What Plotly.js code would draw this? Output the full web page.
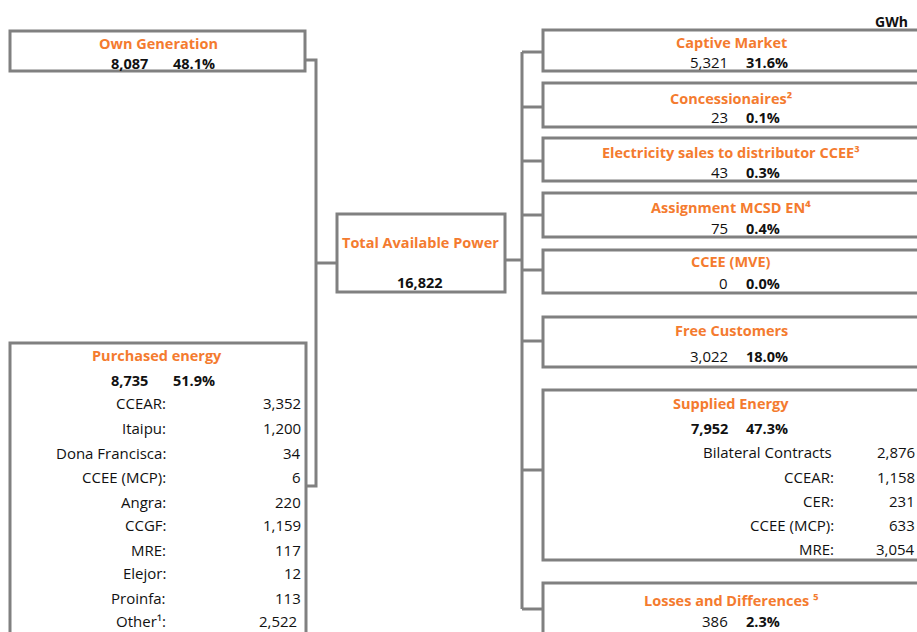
<!DOCTYPE html>
<html>
<head>
<meta charset="utf-8">
<script src="https://cdn.plot.ly/plotly-3.0.1.min.js"></script>
<style>html,body{margin:0;padding:0;background:#fff;}#chart{width:917px;height:632px;}</style>
</head>
<body>
<div id="chart"></div>
<script>
// ---------- DATA ----------
const unitLabel = 'GWh';
const sourceLabels = ['Own Generation', 'Purchased energy'];
const sourceValues = [8087, 8735];
const sourceShares = [48.1, 51.9];
const totalLabel = 'Total Available Power';
const totalValue = 16822;
const purchasedItems = ['CCEAR:', 'Itaipu:', 'Dona Francisca:', 'CCEE (MCP):', 'Angra:', 'CCGF:', 'MRE:', 'Elejor:', 'Proinfa:', 'Other¹:'];
const purchasedValues = [3352, 1200, 34, 6, 220, 1159, 117, 12, 113, 2522];
const useLabels = ['Captive Market', 'Concessionaires²', 'Electricity sales to distributor CCEE³', 'Assignment MCSD EN⁴', 'CCEE (MVE)', 'Free Customers', 'Supplied Energy', 'Losses and Differences ⁵'];
const useValues = [5321, 23, 43, 75, 0, 3022, 7952, 386];
const useShares = [31.6, 0.1, 0.3, 0.4, 0.0, 18.0, 47.3, 2.3];
const suppliedItems = ['Bilateral Contracts', 'CCEAR:', 'CER:', 'CCEE (MCP):', 'MRE:'];
const suppliedValues = [2876, 1158, 231, 633, 3054];

// ---------- LAYOUT (positions, styles) ----------
const ORANGE = '#F47B2F';
const GRAY = '#808080';
const FONT = 'Open Sans, DejaVu Sans, sans-serif';
const LW = 3;
const BOLD_SIZE = 14.5;
const REG_SIZE = 15;
const fmt = v => v.toLocaleString('en-US');
const pct = v => v.toFixed(1) + '%';

const shapes = [];
const ann = [];
function rect(x0, y0, x1, y1) {
  shapes.push({type: 'rect', xref: 'x', yref: 'y', x0, y0, x1, y1, line: {color: GRAY, width: LW}, layer: 'above'});
}
function path(d) {
  shapes.push({type: 'path', xref: 'x', yref: 'y', path: d, line: {color: GRAY, width: LW}, layer: 'above'});
}
function text(t, x, y, opts) {
  opts = opts || {};
  ann.push({text: t, x, y, xref: 'x', yref: 'y', showarrow: false,
    xanchor: opts.xa || 'center', yanchor: 'middle', borderpad: 0,
    font: {family: FONT, size: opts.size || (opts.bold ? BOLD_SIZE : REG_SIZE), color: opts.color || '#111', weight: opts.bold ? 'bold' : 'normal'}});
}

// Own generation box
rect(10, 31, 305, 71);
text(sourceLabels[0], 158, 43, {bold: true, color: ORANGE});
text(fmt(sourceValues[0]), 149, 63, {bold: true, xa: 'right'});
text(pct(sourceShares[0]), 172, 63, {bold: true, xa: 'left'});

// Purchased energy box
rect(10, 343, 306, 660);
text(sourceLabels[1], 157, 355, {bold: true, color: ORANGE});
text(fmt(sourceValues[1]), 149, 380, {bold: true, xa: 'right'});
text(pct(sourceShares[1]), 172, 380, {bold: true, xa: 'left'});
const purchasedRowY = [403, 428, 453, 477, 502, 525, 550, 573, 598, 621];
purchasedItems.forEach((lab, i) => {
  text(lab, 167, purchasedRowY[i], {xa: 'right'});
  text(fmt(purchasedValues[i]), i === purchasedItems.length - 1 ? 298 : 302, purchasedRowY[i], {xa: 'right'});
});

// Left connector
path('M305,60 H316 V486 H306');
path('M316,263 H338');

// Total box
rect(337, 214, 505, 292);
text(totalLabel, 420, 242, {bold: true, color: ORANGE});
text(fmt(totalValue), 420, 282, {bold: true});

// Right connector
path('M505,260 H522');
path('M522,52 V609');

// Use boxes
const boxTop = [30, 83, 138, 193, 250, 317, 390, 583];
const boxBottom = [71, 127, 181, 237, 293, 367, 560, 680];
const titleY = [42, 98, 152, 207, 261, 330, 403, 600];
const valueY = [62, 117, 172, 228, 283, 356, 428, 621];
const branchY = [52, 107, 161, 215, 270, 341, 470, 609];
useLabels.forEach((lab, i) => {
  rect(543, boxTop[i], 935, boxBottom[i]);
  path('M522,' + branchY[i] + ' H543');
  text(lab, 731, titleY[i], {bold: true, color: ORANGE});
  const big = (i === 6);
  text(fmt(useValues[i]), 729, valueY[i], {xa: 'right', bold: big});
  text(pct(useShares[i]), 745, valueY[i], {xa: 'left', bold: true});
});
const suppliedRowY = [452, 477, 501, 525, 549];
suppliedItems.forEach((lab, i) => {
  text(lab, i === 0 ? 833 : 835, suppliedRowY[i], {xa: 'right'});
  text(fmt(suppliedValues[i]), 916, suppliedRowY[i], {xa: 'right'});
});

// Unit
text(unitLabel, 909, 21, {bold: true, xa: 'right', size: 14});

const layout = {
  width: 917, height: 632,
  margin: {l: 0, r: 0, t: 0, b: 0},
  paper_bgcolor: '#fff', plot_bgcolor: '#fff',
  xaxis: {range: [0, 917], visible: false, fixedrange: true},
  yaxis: {range: [632, 0], visible: false, fixedrange: true},
  showlegend: false,
  shapes: shapes,
  annotations: ann
};
Plotly.newPlot('chart', [{x: [0], y: [0], mode: 'markers', marker: {opacity: 0}, hoverinfo: 'skip'}], layout, {staticPlot: true});
</script>
</body>
</html>
